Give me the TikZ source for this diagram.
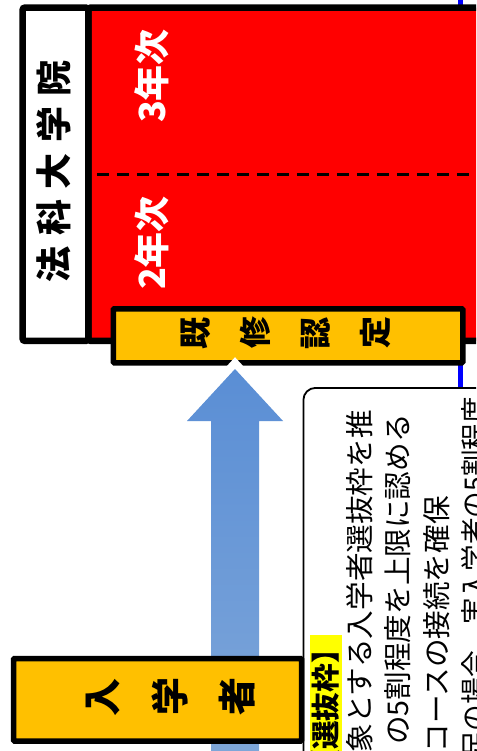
\documentclass[tikz,border=0pt]{standalone}
\usepackage{fontspec}
\usepackage{graphicx}
\newfontfamily\cjk{Noto Sans CJK JP}
\definecolor{boxred}{HTML}{FF0000}
\definecolor{boxyellow}{HTML}{FFC000}
\definecolor{arrowtop}{HTML}{5A8ED5}
\definecolor{arrowbot}{HTML}{82A9DA}
\definecolor{linkblue}{HTML}{0000FF}
\definecolor{hilite}{HTML}{FFFF00}
\newcommand{\rotch}[1]{\makebox[1em]{\rotatebox[origin=c]{90}{#1}}}
\begin{document}
\begin{tikzpicture}[x=1pt,y=-1pt,
  frame/.style={draw=black, line width=6.5pt, rounded corners=2.5pt, inner sep=0pt, anchor=north west},
  ybox/.style={draw=black, line width=5.5pt, fill=boxyellow, rounded corners=1pt, inner sep=0pt, anchor=north west},
  vtext/.style={rotate=90, inner sep=0pt},
  bodyline/.style={rotate=90, font=\cjk\fontsize{28.6}{30}\selectfont, inner sep=0pt, anchor=east},
]
\useasboundingbox (0,0) rectangle (476,751);
\clip (0,0) rectangle (476,751);

% rounded note box (cropped)
\node[draw=black, line width=1.8pt, rounded corners=12pt, minimum width=320pt, minimum height=500pt, inner sep=0pt, anchor=north west] (note) at (302.5,387) {};

% blue link line
\coordinate (linktop) at (460.5,-5);
\draw[linkblue, line width=4.5pt] (linktop) -- (note.north -| linktop);

% red block and school label
\node[frame, fill=boxred, minimum width=420pt, minimum height=333.4pt] (red) at (85,4.3) {};
\node[frame, fill=white, minimum width=65.7pt, minimum height=333.4pt] (school) at (19.3,4.3) {};
\node[vtext, font=\cjk\bfseries\fontsize{36}{40}\selectfont] (schooltxt) at (54,171) {法\hspace{10.5pt}科\hspace{10.5pt}大\hspace{10.5pt}学\hspace{10.5pt}院};

% year divider
\draw[line width=3.3pt, dash pattern=on 12pt off 8pt] ([xshift=12pt]red.west) -- (red.east);
\node[vtext, text=white, font=\cjk\bfseries\fontsize{36}{40}\selectfont] (y3) at (152,76) {3年次};
\node[vtext, text=white, font=\cjk\bfseries\fontsize{36}{40}\selectfont] (y2) at (152,243) {2年次};

% credit recognition box
\node[ybox, minimum width=349.5pt, minimum height=54pt] (credit) at (110.5,306) {};
\node[inner sep=0pt, font=\cjk\bfseries\fontsize{32}{34}\selectfont] (credittxt) at (285.5,333) {\rotch{既}\hspace{28pt}\rotch{修}\hspace{28pt}\rotch{認}\hspace{28pt}\rotch{定}};

% up arrow
\coordinate (tip) at (235,369);
\draw[white, line width=16pt, line join=miter, miter limit=20] (tip) -- (283,421) -- (259,421) -- (259,800) -- (211,800) -- (211,421) -- (187,421) -- cycle;
\shade[top color=arrowtop, bottom color=arrowbot] (tip) -- (283,421) -- (259,421) -- (259,800) -- (211,800) -- (211,421) -- (187,421) -- cycle;

% entrants box
\node[ybox, minimum width=288pt, minimum height=82.5pt] (entrant) at (10.75,655.75) {};
\node[inner sep=0pt, font=\cjk\bfseries\fontsize{38}{40}\selectfont] (entranttxt) at (170,697) {\rotch{入}\hspace{29pt}\rotch{学}\hspace{29pt}\rotch{者}};

% note text
\node[bodyline, font=\cjk\bfseries\fontsize{28.6}{30}\selectfont, fill=hilite, inner ysep=2.5pt] (l1) at (326,635) {【選抜枠】};
\node[bodyline] (l2) at (359.5,410) {象とする入学者選抜枠を推};
\node[bodyline] (l3) at (398,414) {の5割程度を上限に認める};
\node[bodyline] (l4) at (437,496) {コースの接続を確保};
\node[bodyline, xscale=0.93] (l5) at (475,397) {足の場合、実入学者の5割程度};
\end{tikzpicture}
\end{document}
